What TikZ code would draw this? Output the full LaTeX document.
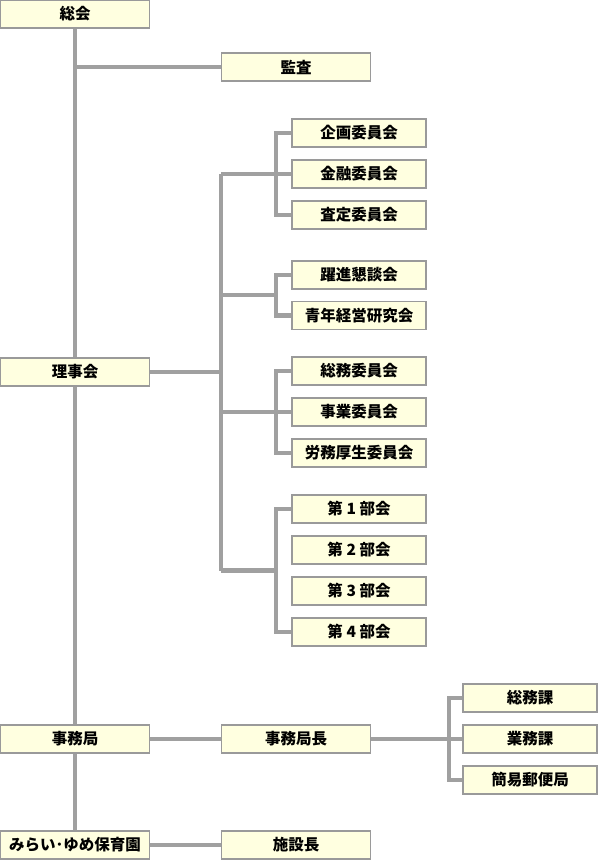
\documentclass[tikz,border=0pt]{standalone}
\usepackage{fontspec}
\setmainfont{Noto Sans CJK JP}
\usetikzlibrary{backgrounds}
\definecolor{boxfill}{HTML}{FFFFE0}
\definecolor{boxline}{HTML}{9A9A9A}
\definecolor{conn}{HTML}{A0A0A0}
\tikzset{
  org/.style={draw=boxline, line width=1.4pt, fill=boxfill, minimum height=28pt, inner sep=0pt,
    font=\fontsize{15.5}{17}\selectfont\bfseries, text=black},
  mainbox/.style={org, minimum width=149pt},
  subbox/.style={org, minimum width=134pt},
  link/.style={draw=conn, line width=4.8pt}
}
\begin{document}
\begin{tikzpicture}[x=1pt,y=-1pt]
\useasboundingbox (0,0) rectangle (598,860);
% left column
\node[mainbox] (sokai) at (75,14) {総会};
\node[mainbox] (riji) at (75,372) {理事会};
\node[mainbox] (jimu) at (75,739) {事務局};
\node[mainbox] (hoiku) at (75,845) {みらい･ゆめ保育園};
% second column
\node[mainbox] (kansa) at (296,67) {監査};
\node[mainbox] (chou) at (296,739) {事務局長};
\node[mainbox] (shisetsu) at (296,845) {施設長};
% committees
\node[subbox] (k1) at (359,133) {企画委員会};
\node[subbox] (k2) at (359,174) {金融委員会};
\node[subbox] (k3) at (359,215) {査定委員会};
\node[subbox] (y1) at (359,275) {躍進懇談会};
\node[subbox] (y2) at (359,315.5) {青年経営研究会};
\node[subbox] (s1) at (359,371) {総務委員会};
\node[subbox] (s2) at (359,412) {事業委員会};
\node[subbox] (s3) at (359,453) {労務厚生委員会};
\node[subbox] (b1) at (359,509) {第 1 部会};
\node[subbox] (b2) at (359,550) {第 2 部会};
\node[subbox] (b3) at (359,591) {第 3 部会};
\node[subbox] (b4) at (359,632) {第 4 部会};
% sections
\node[subbox] (ka1) at (530,698) {総務課};
\node[subbox] (ka2) at (530,739) {業務課};
\node[subbox] (ka3) at (530,780) {簡易郵便局};
% helper coordinates
\coordinate (vx) at (221,0);
\coordinate (bx) at (276,0);
\coordinate (cx) at (449,0);
\coordinate (y2mid) at (0,295);
\coordinate (b4mid) at (0,570.5);
\begin{scope}[on background layer]
\draw[link] (sokai.south) -- (hoiku.north);
\draw[link] (kansa.west) -- (kansa.west -| sokai.south);
\draw[link] (riji.east) -- (vx |- riji.east);
\draw[link] (vx |- k2.west) -- (vx |- b4mid);
% group 1
\draw[link] (vx |- k2.west) -- (k2.west);
\draw[link] (k1.west) -| (bx |- k3.west) -- (k3.west);
% group 2
\draw[link] (vx |- y2mid) -- (bx |- y2mid);
\draw[link] (y1.west) -| (bx |- y2.west) -- (y2.west);
% group 3
\draw[link] (vx |- s2.west) -- (s2.west);
\draw[link] (s1.west) -| (bx |- s3.west) -- (s3.west);
% group 4
\draw[link] (vx |- b4mid) -- (bx |- b4mid);
\draw[link] (b1.west) -| (bx |- b4.west) -- (b4.west);
% bottom
\draw[link] (jimu.east) -- (chou.west);
\draw[link] (chou.east) -- (ka2.west);
\draw[link] (ka1.west) -| (cx |- ka3.west) -- (ka3.west);
\draw[link] (hoiku.east) -- (shisetsu.west);
\end{scope}
\end{tikzpicture}
\end{document}
